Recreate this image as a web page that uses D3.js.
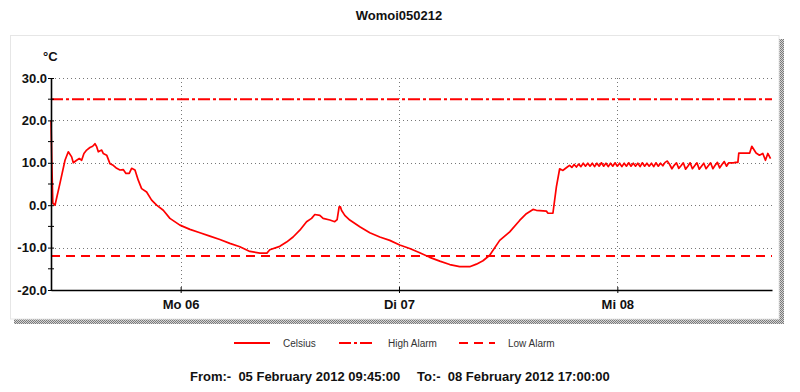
<!DOCTYPE html>
<html>
<head>
<meta charset="utf-8">
<script src="https://cdn.jsdelivr.net/npm/d3@7"></script>
<style>
  body { margin: 0; background: #fff; }
  svg { display: block; font-family: "Liberation Sans", Arial, sans-serif; }
</style>
</head>
<body>
<div id="chart"></div>
<script>
// logger data, hours after the first reading
var startTime = "2012-02-05 09:45"
  , endTime   = "2012-02-08 17:00"
  , highAlarm = 25
  , lowAlarm  = -12

var hoursFromStart = [
  0, 0.1, 0.2, 0.44, 0.99, 1.54, 1.9, 2.27, 2.45, 2.82, 3.11, 3.37, 3.62, 3.92, 4.28, 4.58,
  4.83, 5.02, 5.2, 5.57, 5.74, 6.12, 6.48, 6.84, 7.22, 7.58, 7.94, 8.24, 8.6, 8.86, 9.23,
  9.59, 9.96, 10.51, 11.06, 11.61, 12.34, 13.07, 14.17, 15.27, 16.37, 17.46, 18.56, 19.66,
  20.76, 21.86, 22.96, 23.73, 24.05, 25.15, 25.89, 26.61, 27.35, 28.09, 28.64, 29.0, 29.55,
  29.91, 30.65, 31.19, 31.45, 31.67, 31.82, 31.93, 32.29, 32.84, 33.94, 35.04, 36.14, 37.24,
  38.33, 39.43, 40.53, 41.63, 42.73, 43.83, 44.92, 46.02, 46.76, 47.48, 48.22, 49.32, 50.42,
  51.51, 52.25, 52.98, 53.35, 54.45, 54.63, 55.17, 55.55, 55.91, 56.27,
  56.5, 56.75, 57.0, 57.25, 57.5, 57.75, 58.0, 58.25, 58.5, 58.75, 59.0, 59.25, 59.5, 59.75,
  60.0, 60.25, 60.5, 60.75, 61.0, 61.25, 61.5, 61.75, 62.0, 62.25, 62.5, 62.75, 63.0, 63.25,
  63.5, 63.75, 64.0, 64.25, 64.5, 64.75, 65.0, 65.25, 65.5, 65.75, 66.0, 66.25, 66.5, 66.75,
  67.0, 67.25, 67.5, 67.75,
  68.0, 68.25, 68.5, 68.75, 69.0, 69.25, 69.5, 69.75, 70.0, 70.25, 70.5, 70.75, 71.0, 71.25,
  71.5, 71.75, 72.0, 72.25, 72.5, 72.75, 73.0, 73.25, 73.5, 73.75, 74.0, 74.25, 74.5,
  74.75, 75.0, 75.25, 75.5, 75.6, 76.8, 77.03, 77.5, 77.87, 78.24, 78.53, 78.79, 79.09
]

var celsius = [
  20.0, 9.0, 0.5, 0.0, 5.2, 10.6, 12.6, 11.4, 10.0, 10.6, 11.0, 10.6, 12.2, 13.0, 13.6, 13.9,
  14.5, 13.8, 12.6, 13.0, 12.2, 11.8, 9.8, 9.4, 8.7, 8.3, 8.4, 7.5, 7.5, 8.7, 8.3,
  5.9, 3.9, 3.1, 1.2, 0.0, -1.2, -3.1, -4.7, -5.7, -6.5, -7.3, -8.1, -9.0,
  -9.8, -10.9, -11.3, -11.3, -10.5, -9.7, -8.7, -7.5, -5.9, -3.9, -3.1, -2.2, -2.4,
  -3.1, -3.5, -3.9, -3.4, -0.4, -0.4, -1.2, -2.4, -3.5, -5.1, -6.5, -7.5, -8.3,
  -9.4, -10.2, -11.2, -12.3, -13.2, -14.0, -14.5, -14.5, -13.9, -13.1, -11.8, -8.3, -6.3,
  -3.6, -2.0, -1.0, -1.2, -1.4, -1.9, -1.9, 4.3, 8.6, 8.2,
  8.6, 9.0, 9.4, 8.9, 9.6, 9.0, 9.7, 9.1, 9.9, 9.2, 9.9, 9.2, 9.9, 9.1,
  9.9, 9.2, 10.0, 9.2, 9.9, 9.1, 9.9, 9.2, 10.0, 9.2, 9.9, 9.1, 9.9, 9.2,
  10.0, 9.2, 9.9, 9.2, 9.9, 9.1, 10.0, 9.2, 9.9, 9.2, 9.9, 9.1, 10.0, 9.2,
  9.9, 9.3, 10.1, 10.4,
  9.6, 8.6, 9.4, 10.0, 8.7, 9.3, 10.0, 8.5, 9.2, 10.0, 8.6, 9.3, 10.0, 8.5,
  9.2, 9.9, 8.6, 9.3, 10.0, 8.6, 9.4, 10.1, 8.8, 9.6, 10.3, 9.2, 10.0,
  10.0, 10.0, 10.1, 10.1, 12.3, 12.3, 13.9, 12.3, 11.8, 12.2, 10.6, 12.2, 11.0
]

var dayTicks      = ["2012-02-06 00:00", "2012-02-07 00:00", "2012-02-08 00:00"]
  , dayTickLabels = ["Mo 06", "Di 07", "Mi 08"]
  , yTicks        = [-20, -10, 0, 10, 20, 30]
  , yMinorTicks   = [-15, -5, 5, 15, 25]
  , legendNames   = ["Celsius", "High Alarm", "Low Alarm"]

var width = 800, height = 392
  , margin = {left: 51, right: 28, top: 78, bottom: 102}
  , parse = d3.timeParse("%Y-%m-%d %H:%M")
  , t0 = parse(startTime)
  , red = "#ff0000"
  , dashHigh = "12,3,3,3"
  , dashLow = "9,6"

var svg = d3.select("#chart").append("svg").attr("width", width).attr("height", height)

// dithered grey shadow behind the panel
var pat = svg.append("defs").append("pattern").attr("id", "dither")
    .attr("width", 2).attr("height", 2).attr("patternUnits", "userSpaceOnUse")
pat.append("rect").attr("width", 2).attr("height", 2).attr("fill", "#d4d4d4")
pat.append("rect").attr("width", 1).attr("height", 1).attr("fill", "#7a7a7a")
pat.append("rect").attr("x", 1).attr("y", 1).attr("width", 1).attr("height", 1).attr("fill", "#7a7a7a")

svg.append("rect").attr("x", 779).attr("y", 39).attr("width", 5).attr("height", 285).attr("fill", "url(#dither)")
svg.append("rect").attr("x", 14).attr("y", 319).attr("width", 770).attr("height", 5).attr("fill", "url(#dither)")
svg.append("rect").attr("x", 10.5).attr("y", 35.5).attr("width", 768.5).attr("height", 283.5)
    .attr("fill", "#fff").attr("stroke", "#e6e6e6")

svg.append("text").attr("x", 399).attr("y", 20).attr("text-anchor", "middle")
    .attr("font-size", 13).attr("font-weight", "bold").attr("fill", "#111").text("Womoi050212")

var x = d3.scaleTime().domain([t0, parse(endTime)]).range([margin.left, width - margin.right])
  , y = d3.scaleLinear().domain([-20, 30]).range([height - margin.bottom, margin.top])

var data = hoursFromStart.map(function (h, i) {
  return {t: new Date(t0.getTime() + h * 3600e3), v: celsius[i]}
})
var days = dayTicks.map(parse)

// dotted grid
var grid = svg.append("g").attr("stroke", "#777").attr("stroke-dasharray", "1,3").attr("stroke-width", 1)
grid.selectAll(".h").data(yTicks.filter(function (d) { return d > -20 })).join("line")
    .attr("x1", x.range()[0]).attr("x2", x.range()[1])
    .attr("y1", function (d) { return Math.round(y(d)) + 0.5 }).attr("y2", function (d) { return Math.round(y(d)) + 0.5 })
grid.selectAll(".v").data(days).join("line")
    .attr("y1", y(30)).attr("y2", y(-20))
    .attr("x1", function (d) { return Math.round(x(d)) + 0.5 }).attr("x2", function (d) { return Math.round(x(d)) + 0.5 })

// alarm levels
svg.append("line").attr("x1", x.range()[0]).attr("x2", x.range()[1])
    .attr("y1", y(highAlarm)).attr("y2", y(highAlarm))
    .attr("stroke", red).attr("stroke-width", 2).attr("stroke-dasharray", dashHigh)
svg.append("line").attr("x1", x.range()[0]).attr("x2", x.range()[1])
    .attr("y1", y(lowAlarm)).attr("y2", y(lowAlarm))
    .attr("stroke", red).attr("stroke-width", 2).attr("stroke-dasharray", dashLow)

// the series
svg.append("path").datum(data)
    .attr("d", d3.line().x(function (d) { return x(d.t) }).y(function (d) { return y(d.v) }))
    .attr("fill", "none").attr("stroke", red).attr("stroke-width", 1.7).attr("stroke-linejoin", "round")

// axes
var yAxis = svg.append("g").attr("transform", "translate(" + margin.left + ",0)")
    .call(d3.axisLeft(y).tickValues(yTicks).tickSize(3).tickSizeOuter(0).tickPadding(1)
      .tickFormat(function (d) { return d.toFixed(1) }))
yAxis.selectAll(".tick line").attr("x1", 3)
yAxis.append("g").selectAll("line").data(yMinorTicks).join("line")
    .attr("x1", -3).attr("x2", 3).attr("y1", y).attr("y2", y).attr("stroke", "#000")

var xAxis = svg.append("g").attr("transform", "translate(0," + y(-20) + ")")
    .call(d3.axisBottom(x).tickValues(days).tickSize(3).tickSizeOuter(0).tickPadding(7)
      .tickFormat(function (d, i) { return dayTickLabels[i] }))
xAxis.selectAll(".tick line").attr("y1", -3)

svg.selectAll(".domain").attr("stroke", "#000").attr("stroke-width", 1.6)
svg.selectAll(".tick text").attr("font-size", 13).attr("font-weight", "bold")
    .attr("font-family", "Liberation Sans, Arial, sans-serif").attr("fill", "#111")

svg.append("text").attr("x", 43).attr("y", 61).attr("font-size", 13).attr("font-weight", "bold")
    .attr("fill", "#111").text("°C")

// legend
var legX = [234, 339, 459]
  , legDash = [null, dashHigh, dashLow]
var leg = svg.append("g").selectAll("g").data(legendNames).join("g")
    .attr("transform", function (d, i) { return "translate(" + legX[i] + ",343)" })
leg.append("line").attr("x1", 0).attr("x2", 36).attr("stroke", red).attr("stroke-width", 2)
    .attr("stroke-dasharray", function (d, i) { return legDash[i] })
leg.append("text").attr("x", 49).attr("dy", "0.35em").attr("font-size", 10).attr("fill", "#333")
    .text(function (d) { return d })

// period footer
var fmt = d3.timeFormat("%d %B %Y %H:%M:%S")
svg.append("text").attr("x", 190).attr("y", 381).attr("font-size", 13).attr("font-weight", "bold")
    .attr("fill", "#111").attr("xml:space", "preserve").text("From:-  " + fmt(t0))
svg.append("text").attr("x", 417).attr("y", 381).attr("font-size", 13).attr("font-weight", "bold")
    .attr("fill", "#111").attr("xml:space", "preserve").text("To:-  " + fmt(parse(endTime)))
</script>
</body>
</html>
